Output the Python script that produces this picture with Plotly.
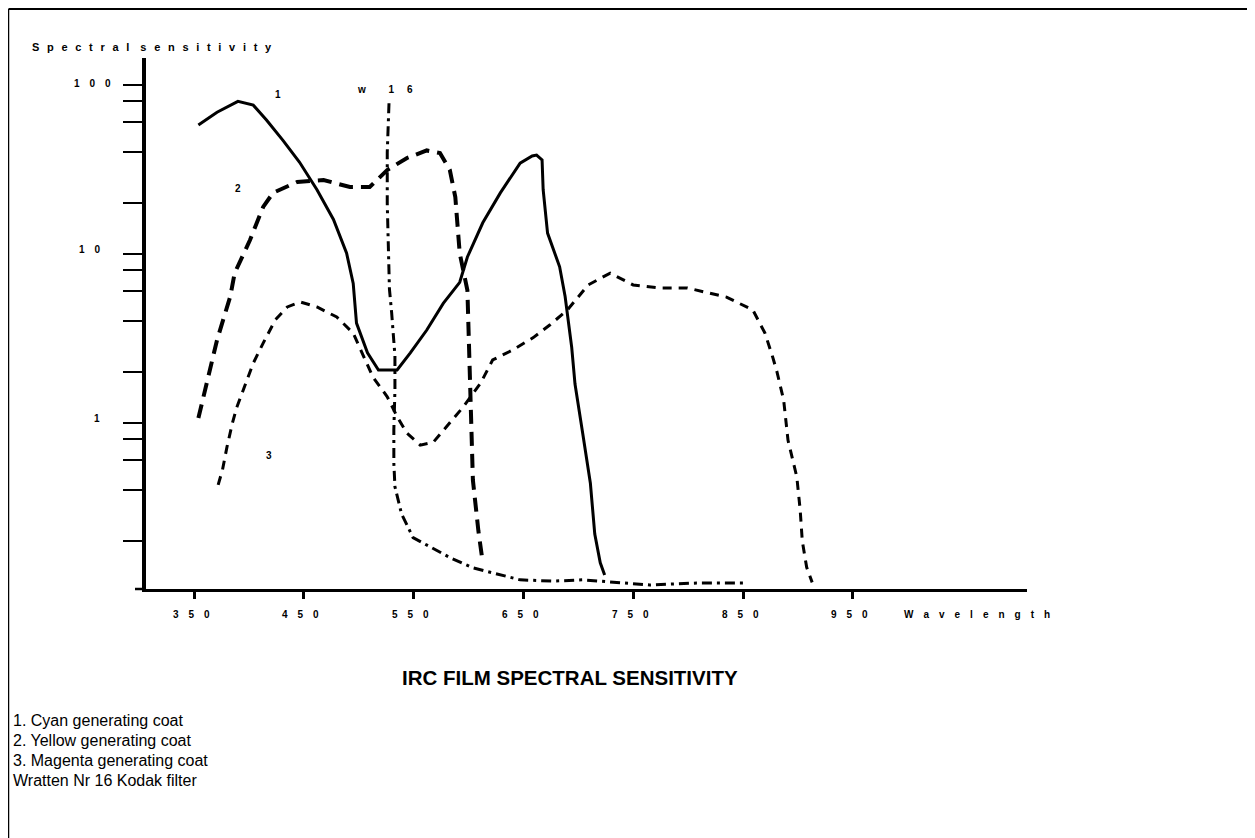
import plotly.graph_objects as go

# ---------------- data ----------------
wl_cyan = [354, 371, 390, 404, 416, 431, 446, 462, 477, 489, 495, 498, 508, 518, 535, 547,
           562, 577, 592, 599, 613, 629, 647, 658, 662, 667, 668, 672, 683, 688, 694, 697,
           704, 711, 715, 720, 724]
s_cyan = [58, 69, 80, 76, 62, 47, 35, 24, 16, 10.1, 6.7, 3.9, 2.6, 2.06, 2.06, 2.6,
          3.55, 5.1, 6.8, 9.6, 15.3, 23, 34.5, 38, 38.5, 36, 24, 13.3, 8.4, 5.6, 2.8, 1.7,
          0.87, 0.44, 0.22, 0.149, 0.126]

wl_yellow = [354, 362, 371, 383, 387, 401, 413, 422, 444, 468, 483, 492, 510, 526, 544, 562,
             574, 583, 588, 590, 592, 599, 601, 603, 604, 609, 613]
s_yellow = [1.07, 1.8, 3.1, 5.6, 7.7, 12.1, 19, 23, 26.7, 27.4, 25.6, 24.9, 24.9, 31.4, 37, 41,
            39.6, 31.4, 21.7, 14.5, 10.1, 6.1, 2.26, 1.0, 0.46, 0.23, 0.149]

wl_magenta = [372, 376, 380, 385, 389, 396, 404, 413, 424, 435, 447, 462, 480, 495, 513, 526,
              535, 544, 556, 568, 580, 595, 611, 622, 640, 659, 674, 690, 709, 729, 750, 774,
              799, 835, 859, 870, 877, 881, 887, 891, 899, 902, 904, 908, 913]
s_magenta = [0.43, 0.53, 0.72, 1.0, 1.24, 1.63, 2.26, 2.97, 4.07, 4.86, 5.2, 4.86, 4.24, 3.4, 1.87, 1.43,
             1.09, 0.87, 0.74, 0.77, 0.95, 1.24, 1.72, 2.36, 2.7, 3.2, 3.8, 4.66, 6.56, 7.7, 6.56, 6.3,
             6.3, 5.56, 4.66, 3.4, 2.46, 2.0, 1.37, 0.79, 0.48, 0.31, 0.2, 0.14, 0.114]

wl_w16 = [527.6, 526, 526, 527, 528, 530, 533, 533, 532, 532, 533, 539, 549.5, 565, 583, 604,
          622, 647, 677, 704, 735, 765, 808, 850]
s_w16 = [78, 40, 20, 9.6, 6.2, 4.5, 2.5, 1.57, 0.91, 0.58, 0.42, 0.29, 0.21, 0.185, 0.16, 0.139,
         0.13, 0.118, 0.116, 0.118, 0.114, 0.11, 0.113, 0.113]

x_ticks = [350, 450, 550, 650, 750, 850, 950]
y_ticks = [0.2, 0.4, 0.6, 0.8, 1, 2, 4, 6, 8, 10, 20, 40, 60, 80, 100]
y_labels = {100: "1 0 0", 10: "1 0", 1: "1"}

legend_lines = ["1. Cyan generating coat", "2. Yellow generating coat",
                "3. Magenta generating coat", "Wratten Nr 16 Kodak filter"]
title_text = "IRC FILM SPECTRAL SENSITIVITY"

# ---------------- layout geometry (screen pixels; page body has an 8px margin) ----------------
W, H = 1255, 838
OFF = 8
L, R, T, B = 146, 1027, 58, 589   # plot area on screen


def px(x):
    return (x - L) / (R - L)


def py(y):
    return (B - y) / (B - T)


SEP = "\u2002\u2009"

fig = go.Figure()
fig.add_trace(go.Scatter(x=wl_cyan, y=s_cyan, mode="lines",
                         line=dict(color="black", width=3), name="1"))
fig.add_trace(go.Scatter(x=wl_yellow, y=s_yellow, mode="lines",
                         line=dict(color="black", width=4, dash="14px,8px"), name="2"))
fig.add_trace(go.Scatter(x=wl_magenta, y=s_magenta, mode="lines",
                         line=dict(color="black", width=3, dash="9px,7px"), name="3"))
fig.add_trace(go.Scatter(x=wl_w16, y=s_w16, mode="lines",
                         line=dict(color="black", width=3, dash="10px,5px,3px,5px"), name="w16"))

ann = []
bold = dict(family="Liberation Sans, Arial, sans-serif", size=10, color="black")

# y axis title
ann.append(dict(x=px(30), y=py(47), xref="paper", yref="paper", xanchor="left", yanchor="middle",
                text="<b>" + SEP.join("Spectral") + "\u2003" + SEP.join("sensitivity") + "</b>",
                showarrow=False, font=dict(bold, size=11)))
# y tick labels
ylab_pos = {100: (72, 83), 10: (77, 249), 1: (92, 418)}
for v, t in y_labels.items():
    xx, yy = ylab_pos[v]
    ann.append(dict(x=px(xx), y=py(yy), xref="paper", yref="paper", xanchor="left", yanchor="middle",
                    text="<b>" + t.replace(" ", "\u2003") + "</b>", showarrow=False, font=bold))
# x tick labels
for v in x_ticks:
    ann.append(dict(x=v, y=0, xref="x", yref="paper", xanchor="center", yanchor="middle",
                    yshift=-(614 - B), xshift=-3,
                    text="<b>" + "\u2003".join(str(v)) + "</b>",
                    showarrow=False, font=bold))
ann.append(dict(x=px(902), y=py(614), xref="paper", yref="paper", xanchor="left", yanchor="middle",
                text="<b>" + "\u2003".join("Wavelength") + "</b>", showarrow=False, font=bold))
# curve labels
for t, xx, yy in [("1", 278, 95), ("2", 238, 188), ("3", 269, 455)]:
    ann.append(dict(x=px(xx), y=py(yy), xref="paper", yref="paper", xanchor="center", yanchor="middle",
                    text="<b>" + t + "</b>", showarrow=False, font=bold))
ann.append(dict(x=px(385), y=py(89), xref="paper", yref="paper", xanchor="center", yanchor="middle",
                text="<b>w\u2003\u2003 1\u2003 6</b>", showarrow=False, font=bold))
# title
ann.append(dict(x=px(570), y=py(677), xref="paper", yref="paper", xanchor="center", yanchor="middle",
                text="<b>" + title_text + "</b>", showarrow=False,
                font=dict(family="Liberation Sans, Arial, sans-serif", size=20.5, color="black")))
# legend text
for i, t in enumerate(legend_lines):
    ann.append(dict(x=px(11), y=py(720 + i * 20.3), xref="paper", yref="paper", xanchor="left",
                    yanchor="middle", text=t, showarrow=False,
                    font=dict(family="Liberation Sans, Arial, sans-serif", size=16, color="black")))

shapes = [
    # outer border (top + left)
    dict(type="line", xref="paper", yref="paper", x0=px(8.5), x1=px(W + 20), y0=py(9), y1=py(9),
         line=dict(color="black", width=2)),
    dict(type="line", xref="paper", yref="paper", x0=px(8.5), x1=px(8.5), y0=py(9), y1=py(H + 20),
         line=dict(color="black", width=1.5)),
    # x axis extension left of y axis
    dict(type="line", xref="paper", yref="paper", x0=px(135), x1=px(L), y0=0, y1=0,
         line=dict(color="black", width=2.5)),
]

fig.update_layout(
    width=W, height=H,
    margin=dict(l=L - OFF, r=W - (R - OFF), t=T - OFF, b=H - (B - OFF), pad=0),
    paper_bgcolor="white", plot_bgcolor="white",
    showlegend=False,
    xaxis=dict(range=[350 + (L - 194) / 1.098, 350 + (R - 194) / 1.098], showgrid=False, zeroline=False,
               showline=True, linecolor="black", linewidth=2.5,
               tickmode="array", tickvals=x_ticks, ticks="outside", ticklen=7, tickwidth=3,
               tickcolor="black", showticklabels=False),
    yaxis=dict(type="log", range=[(423 - B) / 169, (423 - T) / 169], showgrid=False, zeroline=False,
               showline=True, linecolor="black", linewidth=4,
               tickmode="array", tickvals=y_ticks, ticks="outside", ticklen=19, tickwidth=2,
               tickcolor="black", showticklabels=False),
    annotations=ann,
    shapes=shapes,
)

fig.write_html("out.html")
